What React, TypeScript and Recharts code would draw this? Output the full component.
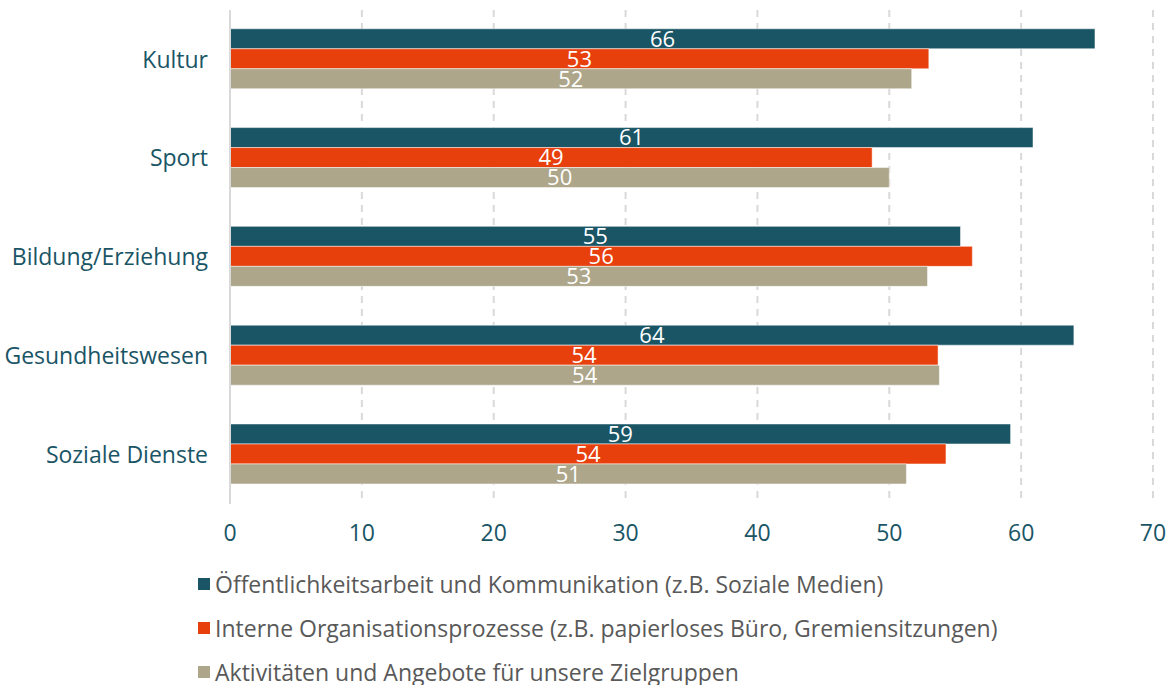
import { BarChart, Bar, XAxis, YAxis, CartesianGrid, LabelList } from 'recharts'

const categories = ['Kultur', 'Sport', 'Bildung/Erziehung', 'Gesundheitswesen', 'Soziale Dienste']
const oeffentlichkeit = [65.6, 60.9, 55.4, 64.0, 59.2]
const intern = [53.0, 48.7, 56.3, 53.7, 54.3]
const aktivitaeten = [51.7, 50.0, 52.9, 53.8, 51.3]
const xTicks = [0, 10, 20, 30, 40, 50, 60, 70]

const series = [
  { key: 'oeff', name: 'Öffentlichkeitsarbeit und Kommunikation (z.B. Soziale Medien)', color: '#1a5566' },
  { key: 'intern', name: 'Interne Organisationsprozesse (z.B. papierloses Büro, Gremiensitzungen)', color: '#e8400c' },
  { key: 'akt', name: 'Aktivitäten und Angebote für unsere Zielgruppen', color: '#ada68a' }
]

const data = categories.map((name, i) => ({
  name,
  oeff: oeffentlichkeit[i],
  intern: intern[i],
  akt: aktivitaeten[i]
}))

const FONT = '"Open Sans", sans-serif'

export default function App() {
  return (
    <div style={{ position: 'relative', width: 1169, height: 685, overflow: 'hidden', fontFamily: FONT }}>
      <style>{'body{margin:0;overflow:hidden}'}</style>
      <BarChart
        layout="vertical"
        width={1169}
        height={548}
        data={data}
        margin={{ top: 10, right: 16, bottom: 0, left: 0 }}
        barCategoryGap="19%"
        barGap={0}
      >
        <CartesianGrid horizontal={false} stroke="#d9d9d9" strokeDasharray="7 6" strokeWidth={2} />
        <XAxis
          type="number"
          domain={[0, 70]}
          ticks={xTicks}
          axisLine={false}
          tickLine={false}
          tickSize={0}
          tickMargin={21}
          height={44}
          tick={{ fill: '#1a5566', fontSize: 23, fontFamily: FONT }}
        />
        <YAxis
          type="category"
          dataKey="name"
          width={230}
          axisLine={{ stroke: '#d9d9d9', strokeWidth: 2 }}
          tickLine={false}
          tickSize={0}
          tickMargin={22}
          tick={{ fill: '#1a5566', fontSize: 23, fontFamily: FONT }}
        />
        {series.map(s => (
          <Bar
            key={s.key}
            dataKey={s.key}
            name={s.name}
            fill={s.color}
            stroke="rgba(255,255,255,0.5)"
            strokeWidth={1}
            isAnimationActive={false}
          >
            <LabelList
              dataKey={s.key}
              position="center"
              fill="#ffffff"
              fontSize={22}
              fontFamily={FONT}
              formatter={(v: number) => Math.round(v)}
            />
          </Bar>
        ))}
      </BarChart>
      <div style={{ position: 'absolute', left: 198, top: 562 }}>
        {series.map(s => (
          <div key={s.key} style={{ display: 'flex', alignItems: 'center', height: 44, color: '#595959', fontSize: 23, lineHeight: '24px', whiteSpace: 'nowrap' }}>
            <span style={{ width: 12, height: 12, background: s.color, marginRight: 5, display: 'inline-block', flexShrink: 0 }} />
            <span>{s.name}</span>
          </div>
        ))}
      </div>
    </div>
  )
}
